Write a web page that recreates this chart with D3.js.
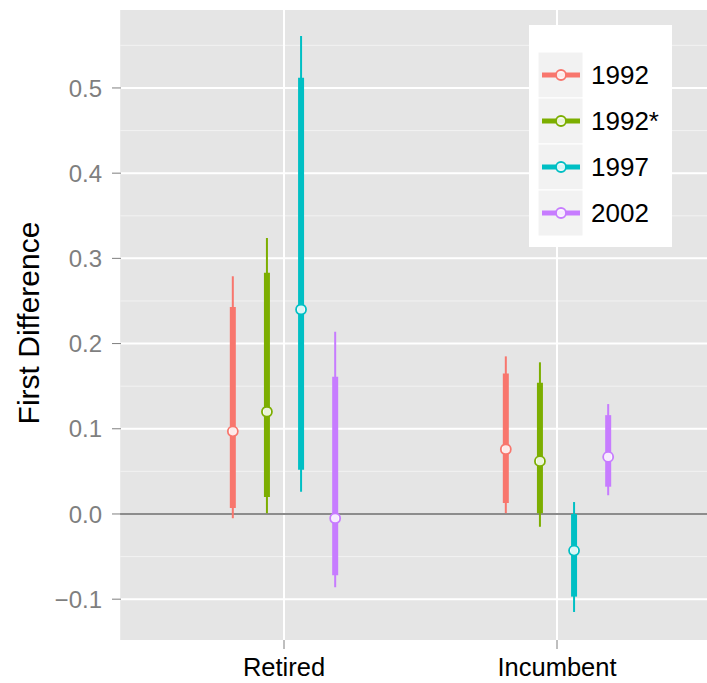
<!DOCTYPE html>
<html><head><meta charset="utf-8">
<script src="https://cdn.jsdelivr.net/npm/d3@7"></script>
<style>body{margin:0;background:#fff}svg{display:block}text{font-family:"Liberation Sans",Arial,sans-serif}</style>
</head><body>
<svg id="c" width="707" height="683"></svg>
<script>
const categories = ["Retired", "Incumbent"];
const series = ["1992", "1992*", "1997", "2002"];
const colors = ["#F8766D", "#7CAE00", "#00BFC4", "#C77CFF"];
// point estimates, per category, per series
const estRetired   = [0.097, 0.120, 0.240, -0.005];
const estIncumbent = [0.076, 0.062, -0.043, 0.067];
// inner (thick) intervals
const innerLoRetired   = [0.007, 0.020, 0.052, -0.072];
const innerHiRetired   = [0.243, 0.283, 0.512, 0.161];
const innerLoIncumbent = [0.013, 0.001, -0.097, 0.032];
const innerHiIncumbent = [0.165, 0.154, 0.000, 0.116];
// outer (thin) intervals
const outerLoRetired   = [-0.005, 0.001, 0.026, -0.086];
const outerHiRetired   = [0.279, 0.324, 0.561, 0.214];
const outerLoIncumbent = [0.001, -0.015, -0.115, 0.022];
const outerHiIncumbent = [0.185, 0.178, 0.014, 0.129];
const yTicks = [-0.1, 0.0, 0.1, 0.2, 0.3, 0.4, 0.5];

(function () {
const rows = [];
categories.forEach((cat, ci) => {
  const est = ci === 0 ? estRetired : estIncumbent;
  const il = ci === 0 ? innerLoRetired : innerLoIncumbent;
  const ih = ci === 0 ? innerHiRetired : innerHiIncumbent;
  const ol = ci === 0 ? outerLoRetired : outerLoIncumbent;
  const oh = ci === 0 ? outerHiRetired : outerHiIncumbent;
  series.forEach((s, si) => rows.push({cat, ci, s, si, est: est[si], il: il[si], ih: ih[si], ol: ol[si], oh: oh[si]}));
});

const svg = d3.select("#c");
const pTop = 10, pBottom = 640, pLeft = 121;
const x = d3.scaleLinear().domain([1, 2]).range([284, 557]);
const yMin = -0.1479, yMax = 0.5915;
const y = d3.scaleLinear().domain([yMin, yMax]).range([pBottom, pTop]);
const dodge = 0.125;
const xl = x(0.4), xr = x(2.6);

svg.append("rect").attr("x", xl).attr("y", pTop).attr("width", xr - xl).attr("height", pBottom - pTop).attr("fill", "#E5E5E5");
const minor = d3.range(-0.15, 0.60001, 0.1).map(v => +v.toFixed(2)).filter(v => v > yMin && v < yMax);
svg.selectAll(".mg").data(minor).join("line").attr("x1", xl).attr("x2", xr)
  .attr("y1", d => y(d)).attr("y2", d => y(d)).attr("stroke", "#F2F2F2").attr("stroke-width", 1);
svg.selectAll(".gy").data(yTicks).join("line").attr("x1", xl).attr("x2", xr)
  .attr("y1", d => y(d)).attr("y2", d => y(d)).attr("stroke", "#fff").attr("stroke-width", 2);
svg.selectAll(".gx").data(categories).join("line").attr("x1", (d, i) => x(i + 1)).attr("x2", (d, i) => x(i + 1))
  .attr("y1", pTop).attr("y2", pBottom).attr("stroke", "#fff").attr("stroke-width", 2);
svg.append("line").attr("x1", xl).attr("x2", xr).attr("y1", y(0)).attr("y2", y(0)).attr("stroke", "#666").attr("stroke-width", 1.3);

const px = d => x(d.ci + 1 + (d.si - 1.5) * dodge);
svg.selectAll(".outer").data(rows).join("line").attr("x1", px).attr("x2", px)
  .attr("y1", d => y(d.ol)).attr("y2", d => y(d.oh)).attr("stroke", d => colors[d.si]).attr("stroke-width", 2);
svg.selectAll(".inner").data(rows).join("line").attr("x1", px).attr("x2", px)
  .attr("y1", d => y(d.il)).attr("y2", d => y(d.ih)).attr("stroke", d => colors[d.si]).attr("stroke-width", 6);
svg.selectAll(".pt").data(rows).join("circle").attr("cx", px).attr("cy", d => y(d.est)).attr("r", 5)
  .attr("fill", "#fff").attr("fill-opacity", 0.85).attr("stroke", d => colors[d.si]).attr("stroke-width", 1.8);

const ya = svg.append("g");
yTicks.forEach(v => {
  ya.append("line").attr("x1", pLeft - 9).attr("x2", pLeft).attr("y1", y(v)).attr("y2", y(v)).attr("stroke", "#7f7f7f").attr("stroke-width", 1);
  ya.append("text").attr("x", pLeft - 19).attr("y", y(v)).attr("dy", "0.36em").attr("text-anchor", "end")
    .attr("fill", "#7f7f7f").attr("font-size", 24).text(v === 0 ? "0.0" : d3.format(".1f")(v).replace("-", "\u2212"));
});
svg.append("text").attr("transform", `translate(39,323) rotate(-90)`).attr("text-anchor", "middle")
  .attr("font-size", 30).attr("fill", "#000").text("First Difference");
categories.forEach((c, i) => {
  svg.append("line").attr("x1", x(i + 1)).attr("x2", x(i + 1)).attr("y1", pBottom).attr("y2", pBottom + 9).attr("stroke", "#7f7f7f");
  svg.append("text").attr("x", x(i + 1)).attr("y", 676).attr("text-anchor", "middle").attr("font-size", 25.5).attr("fill", "#000").text(c);
});

const lg = svg.append("g");
lg.append("rect").attr("x", 529).attr("y", 25).attr("width", 143).attr("height", 222).attr("fill", "#fff");
series.forEach((s, i) => {
  const cy = 75 + i * 46;
  lg.append("rect").attr("x", 538).attr("y", cy - 23).attr("width", 45).attr("height", 46).attr("fill", "#F2F2F2").attr("stroke", "#fff");
  lg.append("line").attr("x1", 542).attr("x2", 580).attr("y1", cy).attr("y2", cy).attr("stroke", colors[i]).attr("stroke-width", 5);
  lg.append("circle").attr("cx", 561).attr("cy", cy).attr("r", 5).attr("fill", "#fff").attr("fill-opacity", 0.85).attr("stroke", colors[i]).attr("stroke-width", 1.8);
  lg.append("text").attr("x", 591).attr("y", cy).attr("dy", "0.36em").attr("font-size", 26).attr("fill", "#000").text(s);
});
})();
</script>
</body></html>
